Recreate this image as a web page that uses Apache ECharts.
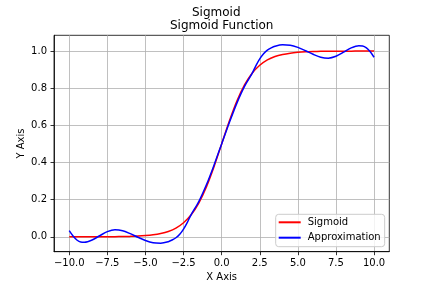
<!DOCTYPE html>
<html><head><meta charset="utf-8">
<script src="https://cdn.jsdelivr.net/npm/echarts@6/dist/echarts.min.js"></script>
<style>html,body{margin:0;padding:0;background:#fff}#c{width:432px;height:288px}</style>
</head><body><div id="c"></div>
<script>
const sigX = [-10,-9.5,-9,-8.5,-8,-7.5,-7,-6.5,-6,-5.5,-5,-4.5,-4,-3.5,-3,-2.5,-2,-1.5,-1,-0.5,0,0.5,1,1.5,2,2.5,3,3.5,4,4.5,5,5.5,6,6.5,7,7.5,8,8.5,9,9.5,10];
const sigY = [0.00005,0.0001,0.0001,0.0002,0.0003,0.0006,0.0009,0.0015,0.0025,0.004,0.0067,0.011,0.018,0.029,0.047,0.076,0.119,0.182,0.269,0.378,0.5,0.622,0.731,0.818,0.881,0.924,0.953,0.971,0.982,0.989,0.9933,0.996,0.9975,0.9985,0.9991,0.9994,0.9997,0.9998,0.9999,0.9999,0.99995];
const apxX = [-10,-9.75,-9.5,-9.25,-9,-8.5,-8,-7.5,-7,-6.5,-6,-5.5,-5,-4.5,-4,-3.5,-3.25,-3,-2.75,-2.5,-2.25,-2,-1.5,-1,-0.5,0,0.5,1,1.5,2,2.25,2.5,2.75,3,3.25,3.5,4,4.5,5,5.5,6,6.5,7,7.5,8,8.5,9,9.25,9.5,9.75,10];
const apxY = [0.033,0.004,-0.017,-0.028,-0.029,-0.017,0.006,0.028,0.038,0.033,0.017,-0.002,-0.02,-0.032,-0.034,-0.026,-0.017,-0.005,0.014,0.042,0.078,0.12,0.19,0.28,0.386,0.5,0.614,0.72,0.81,0.88,0.922,0.958,0.986,1.005,1.017,1.026,1.034,1.032,1.02,1.002,0.983,0.967,0.962,0.972,0.994,1.017,1.029,1.028,1.017,0.996,0.967];
const xTicks = [-10,-7.5,-5,-2.5,0,2.5,5,7.5,10];
const yTicks = [0,0.2,0.4,0.6,0.8,1.0];
const FONT = 'DejaVu Sans';
const fmt = v => v.toFixed(1).replace('-', '\u2212');
const chart = echarts.init(document.getElementById('c'), null, {renderer:'canvas'});
chart.setOption({
  animation:false,
  backgroundColor:'#fff',
  title:[
    {text:'Sigmoid', left:192, top:7, padding:0, textStyle:{fontFamily:FONT,fontSize:12,fontWeight:'normal',color:'#000'}},
    {text:'Sigmoid Function', left:170, top:20, padding:0, textStyle:{fontFamily:FONT,fontSize:12,fontWeight:'normal',color:'#000'}}
  ],
  grid:{left:54, right:42.7, top:35.3, height:216.4, containLabel:false, outerBoundsMode:'none', show:true, borderColor:'#000', borderWidth:0.8, backgroundColor:'transparent'},
  xAxis:{type:'value', min:-11, max:11, name:'X Axis', nameLocation:'middle', nameGap:21, nameMoveOverlap:false,
    nameTextStyle:{fontFamily:FONT,fontSize:10,color:'#000'},
    axisLine:{show:true,onZero:false,lineStyle:{color:'#000',width:0.8}},
    axisTick:{show:true,length:3.5,lineStyle:{color:'#000',width:0.8},customValues:xTicks},
    axisLabel:{fontFamily:FONT,fontSize:10,color:'#000',margin:7,customValues:xTicks,formatter:fmt},
    splitLine:{show:true,lineStyle:{color:'#b0b0b0',width:0.8}}
  },
  yAxis:{type:'value', min:-0.08, max:1.085, name:'Y Axis', nameLocation:'middle', nameGap:28, nameMoveOverlap:false,
    nameTextStyle:{fontFamily:FONT,fontSize:10,color:'#000'},
    axisLine:{show:true,onZero:false,lineStyle:{color:'#000',width:0.8}},
    axisTick:{show:true,length:3.5,lineStyle:{color:'#000',width:0.8},customValues:yTicks},
    axisLabel:{fontFamily:FONT,fontSize:10,color:'#000',margin:7,customValues:yTicks,formatter:fmt},
    splitLine:{show:true,lineStyle:{color:'#b0b0b0',width:0.8}}
  },
  legend:{orient:'vertical', left:275.7, top:214.3, padding:[2,4,3,3],
    itemWidth:22, itemHeight:2, itemGap:3.4, icon:'rect',
    borderColor:'#cccccc', borderWidth:1, borderRadius:3, backgroundColor:'rgba(255,255,255,0.8)',
    textStyle:{fontFamily:FONT,fontSize:10,color:'#000',lineHeight:12, padding:[0,0,0,2]},
    data:['Sigmoid','Approximation']},
  series:[
    {name:'Sigmoid', type:'line', data:sigX.map((x,i)=>[x,sigY[i]]), smooth:0.3, showSymbol:false,
      lineStyle:{color:'#ff0000',width:1.5}, itemStyle:{color:'#ff0000'}},
    {name:'Approximation', type:'line', data:apxX.map((x,i)=>[x,apxY[i]]), smooth:0.3, showSymbol:false,
      lineStyle:{color:'#0000ff',width:1.5}, itemStyle:{color:'#0000ff'}}
  ]
});
</script></body></html>
